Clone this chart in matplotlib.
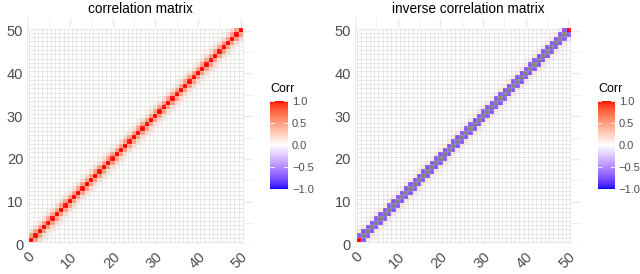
import numpy as np
import matplotlib
matplotlib.use("Agg")
import matplotlib.pyplot as plt
from matplotlib.colors import ListedColormap, Normalize
from matplotlib.collections import LineCollection
import matplotlib.cm as cm

plt.rcParams['font.family'] = ['Liberation Sans', 'DejaVu Sans']

# ---- data ----
n = 50
corr_bands = [1.0, 0.5, 0.18, 0.04]           # value by |i-j| for correlation matrix
inv_bands = [1.6, -0.72, 0.12, -0.03]         # value by |i-j| for inverse (diag > 1 -> NA grey)
inv_corner = 1.0                               # inverse diag at the two ends
titles = ["correlation matrix", "inverse correlation matrix"]
ticks = [0, 10, 20, 30, 40, 50]
cbar_ticks = [-1.0, -0.5, 0.0, 0.5, 1.0]
cbar_labels = ["\u22121.0", "\u22120.5", "0.0", "0.5", "1.0"]

def band_matrix(bands):
    m = np.zeros((n, n))
    for k, v in enumerate(bands):
        idx = np.arange(n - k)
        m[idx, idx + k] = v
        m[idx + k, idx] = v
    return m

corr = band_matrix(corr_bands)
inv = band_matrix(inv_bands)
inv[0, 0] = inv_corner
inv[n - 1, n - 1] = inv_corner

# ---- Lab-interpolated diverging palette (blue - white - red) ----
def srgb_to_lab(rgb):
    rgb = np.asarray(rgb, float)
    lin = np.where(rgb <= 0.04045, rgb / 12.92, ((rgb + 0.055) / 1.055) ** 2.4)
    M = np.array([[0.4124, 0.3576, 0.1805], [0.2126, 0.7152, 0.0722], [0.0193, 0.1192, 0.9505]])
    xyz = M @ lin
    wp = np.array([0.95047, 1.0, 1.08883])
    t = xyz / wp
    f = np.where(t > (6 / 29) ** 3, np.cbrt(t), t / (3 * (6 / 29) ** 2) + 4 / 29)
    return np.array([116 * f[1] - 16, 500 * (f[0] - f[1]), 200 * (f[1] - f[2])])

def lab_to_srgb(lab):
    L, a, b = lab
    fy = (L + 16) / 116
    fx = fy + a / 500
    fz = fy - b / 200
    def finv(f):
        return np.where(f > 6 / 29, f ** 3, 3 * (6 / 29) ** 2 * (f - 4 / 29))
    wp = np.array([0.95047, 1.0, 1.08883])
    xyz = np.array([finv(fx), finv(fy), finv(fz)]) * wp
    Minv = np.array([[3.2406, -1.5372, -0.4986], [-0.9689, 1.8758, 0.0415], [0.0557, -0.2040, 1.0570]])
    lin = Minv @ xyz
    lin = np.clip(lin, 0, 1)
    rgb = np.where(lin <= 0.0031308, 12.92 * lin, 1.055 * lin ** (1 / 2.4) - 0.055)
    return np.clip(rgb, 0, 1)

lab_blue = srgb_to_lab([0, 0, 1])
lab_white = srgb_to_lab([1, 1, 1])
lab_red = srgb_to_lab([1, 0, 0])
cols = []
for t in np.linspace(-1, 1, 256):
    if t < 0:
        lab = lab_white + (lab_blue - lab_white) * (-t)
    else:
        lab = lab_white + (lab_red - lab_white) * t
    cols.append(lab_to_srgb(lab))
cols[0] = [0, 0, 1]
cols[-1] = [1, 0, 0]
cmap = ListedColormap(cols)
cmap.set_over('#FF0000')
cmap.set_under('#0000FF')
cmap.set_bad('#7F7F7F')   # out-of-range values (NA in the original)
norm = Normalize(vmin=-1, vmax=1)

fig = plt.figure(figsize=(6.4, 2.74), dpi=100)

axes_pos = [[0.0427, 0.1084, 0.3527, 0.8245], [0.5547, 0.1084, 0.3527, 0.8245]]
cbar_pos = [[0.4219, 0.310, 0.028, 0.322], [0.9344, 0.310, 0.026, 0.322]]
corr_title_x = [0.4219, 0.9344]

edges = np.arange(0.5, n + 1.5, 1.0)
ext = (0.5, n + 0.5, 0.5, n + 0.5)
for k, (mat, title) in enumerate(zip([corr, inv], titles)):
    ax = fig.add_axes(axes_pos[k])
    ax.set_xlim(0, 52.9)
    ax.set_ylim(0, 52.9)
    for v in np.arange(0, 55, 5):
        lw = 1.0 if v % 10 == 0 else 0.5
        ax.axvline(v, color='#EBEBEB', lw=lw, zorder=0)
        ax.axhline(v, color='#EBEBEB', lw=lw, zorder=0)
    shown = np.ma.masked_where(np.abs(mat) > 1.0001, mat)
    rgba = cmap(norm(shown))
    ax.imshow(rgba, origin='lower', interpolation='nearest', extent=ext,
              aspect='auto', zorder=1)
    segs = [[(e, edges[0]), (e, edges[-1])] for e in edges] + \
           [[(edges[0], e), (edges[-1], e)] for e in edges]
    ax.add_collection(LineCollection(segs, colors='#D4D4D4', linewidths=0.4, zorder=2))
    # strongly coloured tiles on top, with light borders
    strong = rgba.copy()
    weak = (np.abs(mat) < 0.3)
    strong[weak, 3] = 0.0
    ax.imshow(strong, origin='lower', interpolation='nearest', extent=ext,
              aspect='auto', zorder=3)
    ax.add_collection(LineCollection(segs, colors='white', linewidths=0.35,
                                     alpha=0.35, zorder=4))
    for s in ax.spines.values():
        s.set_visible(False)
    ax.set_xticks(ticks)
    ax.set_yticks(ticks)
    ax.set_xticklabels([str(t) for t in ticks], rotation=45, ha='right', va='top',
                       rotation_mode='anchor', fontsize=10.5, color='#4D4D4D')
    ax.set_yticklabels([str(t) for t in ticks], fontsize=10.5, color='#4D4D4D')
    ax.tick_params(axis='y', length=0, pad=3)
    ax.tick_params(axis='x', length=0, pad=4)
    ax.set_title(title, fontsize=9.8, color='black', pad=4)

    cax = fig.add_axes(cbar_pos[k])
    cb = fig.colorbar(cm.ScalarMappable(norm=norm, cmap=cmap), cax=cax)
    cb.outline.set_visible(False)
    cb.set_ticks(cbar_ticks)
    cb.set_ticklabels(cbar_labels)
    cax.tick_params(length=0, labelsize=8, colors='#4D4D4D', pad=3)
    for t in cbar_ticks:
        cax.plot([0, 0.2], [t, t], color='white', lw=0.6, transform=cax.get_yaxis_transform())
        cax.plot([0.8, 1.0], [t, t], color='white', lw=0.6, transform=cax.get_yaxis_transform())
    fig.text(corr_title_x[k], 0.655, "Corr", fontsize=9, color='black', ha='left', va='bottom')

fig.savefig("out.png", dpi=100)
